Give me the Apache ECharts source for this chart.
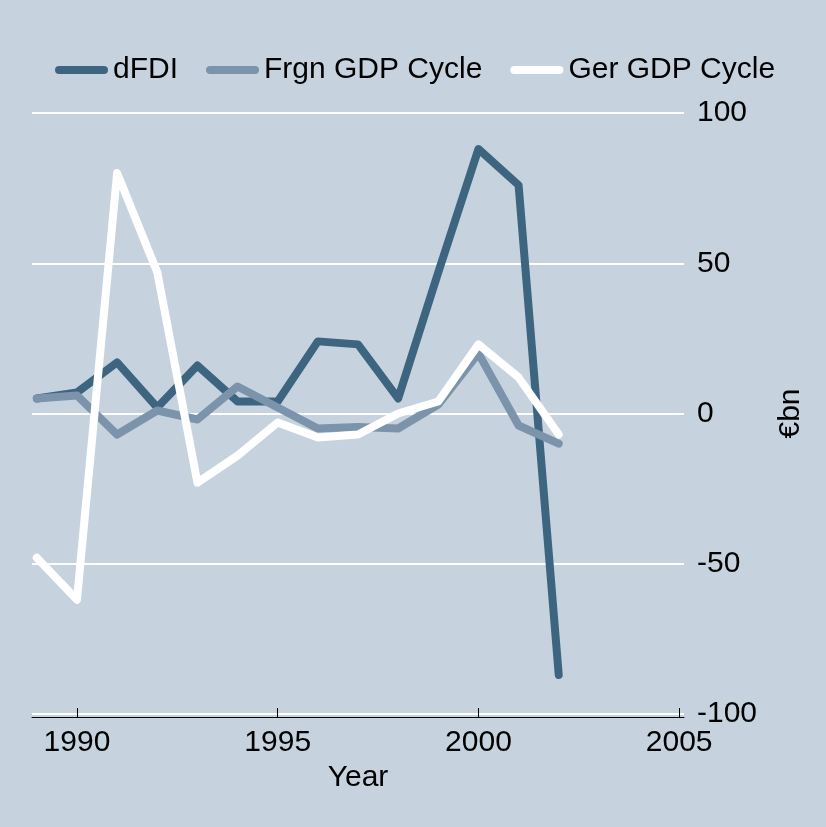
<!DOCTYPE html>
<html>
<head>
<meta charset="utf-8">
<script src="https://cdn.jsdelivr.net/npm/echarts@6/dist/echarts.min.js"></script>
<style>
html,body{margin:0;padding:0;background:#C6D3DF;}
#main{width:826px;height:827px;}
</style>
</head>
<body>
<div id="main"></div>
<script>
// data
var years = [1989,1990,1991,1992,1993,1994,1995,1996,1997,1998,1999,2000,2001,2002];
var dFDI = [5,7,17,2,16,4,4,24,23,5,47,88,76,-87];
var frgnCycle = [5,6,-7,1,-2,9,2,-5,-4.5,-5,3,20,-4,-10];
var gerCycle = [-48,-62,80,47,-23,-14,-3,-8,-7,0,4,23,12,-7];
var xTicks = [1990,1995,2000,2005];

function pairs(vals){
	var out = [];
	for(var i=0;i<years.length;i++){
		out.push([years[i], vals[i]]);
	}
	return out;
}

var fam = 'Liberation Sans, Arial, sans-serif';
var txt = {fontFamily:fam, fontSize:30, color:'#000'};
var capIcon = 'path://M4,0 H48 A4,4 0 0 1 48,8 H4 A4,4 0 0 1 4,0 Z';

var chart = echarts.init(document.getElementById('main'));
var option = {
	backgroundColor:'#C6D3DF',
	animation:false,
	textStyle:{fontFamily:fam},
	legend:{
		left:50, top:50,
		itemWidth:53, itemHeight:9,
		itemGap:28,
		textStyle:txt,
		data:[
			{name:'dFDI', icon:capIcon},
			{name:'Frgn GDP Cycle', icon:capIcon},
			{name:'Ger GDP Cycle', icon:capIcon}
		]
	},
	grid:{left:32, right:142, top:113, bottom:113},
	xAxis:{
		type:'value',
		min:1988.88, max:2005.12,
		name:'Year', nameLocation:'middle', nameGap:44,
		nameTextStyle:txt,
		offset:3,
		axisLine:{show:true, onZero:false, lineStyle:{color:'#000', width:1}},
		axisTick:{show:true, inside:true, length:9, customValues:xTicks, lineStyle:{color:'#000'}},
		axisLabel:{customValues:xTicks, margin:11, fontSize:30, color:'#000', fontFamily:fam,
			formatter:function(v){ return String(v); }},
		splitLine:{show:false}
	},
	yAxis:{
		type:'value',
		position:'right',
		min:-100, max:100, interval:50,
		name:'€bn', nameLocation:'middle', nameGap:92, nameRotate:90,
		nameTextStyle:txt,
		axisLine:{show:false},
		axisTick:{show:false},
		axisLabel:{margin:13, fontSize:30, color:'#000', fontFamily:fam},
		splitLine:{show:true, lineStyle:{color:'#fff', width:2}}
	},
	series:[
		{name:'dFDI', type:'line', data:pairs(dFDI), showSymbol:false, color:'#3E6580',
			lineStyle:{width:8, cap:'round', join:'round'}},
		{name:'Frgn GDP Cycle', type:'line', data:pairs(frgnCycle), showSymbol:false, color:'#7B94AB',
			lineStyle:{width:8, cap:'round', join:'round'}},
		{name:'Ger GDP Cycle', type:'line', data:pairs(gerCycle), showSymbol:false, color:'#FFFFFF',
			lineStyle:{width:8, cap:'round', join:'round'}}
	]
};
chart.setOption(option);
</script>
</body>
</html>
